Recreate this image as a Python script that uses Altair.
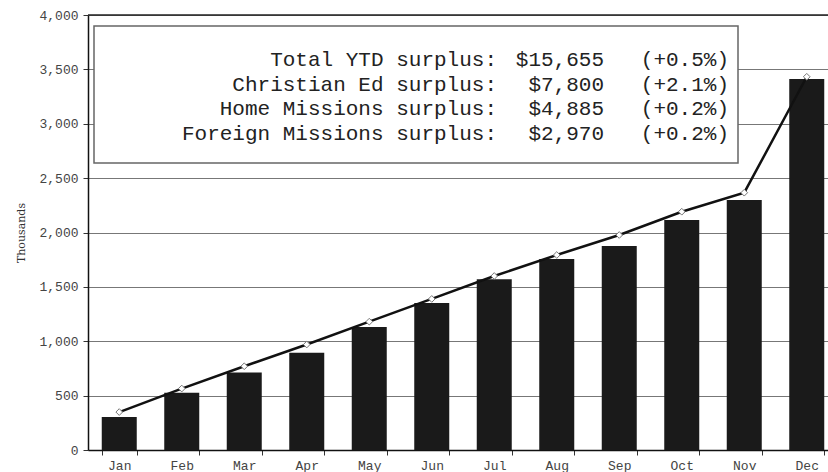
import altair as alt
import pandas as pd

months = ["Jan", "Feb", "Mar", "Apr", "May", "Jun", "Jul", "Aug", "Sep", "Oct", "Nov", "Dec"]
actual = [303, 527, 712, 894, 1131, 1352, 1570, 1756, 1876, 2115, 2299, 3411]
budget = [349, 565, 770, 970, 1180, 1389, 1600, 1793, 1977, 2191, 2366, 3432]

box_labels = ["Total YTD surplus:", "Christian Ed surplus:", "Home Missions surplus:", "Foreign Missions surplus:"]
box_amounts = ["$15,655", "$7,800", "$4,885", "$2,970"]
box_pcts = ["(+0.5%)", "(+2.1%)", "(+0.2%)", "(+0.2%)"]

df = pd.DataFrame({"month": months, "actual": actual, "budget": budget})
tdf = pd.DataFrame({"row": list(range(len(box_labels))), "label": box_labels,
                    "amount": box_amounts, "pct": box_pcts})

FONT = "Liberation Mono"

xenc = alt.X("month:N", sort=months, title=None,
             scale=alt.Scale(range=[0, 750], paddingInner=0.44, paddingOuter=0.22),
             axis=alt.Axis(labelAngle=0, labelFont=FONT, labelFontSize=13, labelColor="#444",
                           domainColor="#111", domainWidth=1.5, tickColor="#333", tickSize=5,
                           tickBand="extent", labelPadding=4))
yenc = alt.Y("actual:Q", title="Thousands",
             scale=alt.Scale(domain=[0, 4000]),
             axis=alt.Axis(values=list(range(0, 4001, 500)), format=",d",
                           labelFont=FONT, labelFontSize=13, labelColor="#444",
                           titleFont="DejaVu Serif", titleFontSize=11, titleFontWeight="normal",
                           titleColor="#333", titlePadding=12,
                           domainColor="#111", domainWidth=1.5, tickColor="#333", tickSize=5,
                           grid=True, gridColor="#777", gridWidth=1.2, labelPadding=5))

bars = alt.Chart(df).mark_bar(color="#1a1a1a").encode(x=xenc, y=yenc)
line = alt.Chart(df).mark_line(color="#111", strokeWidth=2.5).encode(
    x=alt.X("month:N", sort=months), y=alt.Y("budget:Q"))
pts = alt.Chart(df).mark_point(shape="diamond", size=45, filled=True, fill="white",
                               stroke="#777", strokeWidth=1, opacity=1).encode(
    x=alt.X("month:N", sort=months), y=alt.Y("budget:Q"))

top_rule = alt.Chart(pd.DataFrame({"v": [4000]})).mark_rule(color="#222", strokeWidth=1.5).encode(
    y=alt.Y("v:Q"))

main = alt.layer(bars, line, pts, top_rule)

box = alt.Chart(pd.DataFrame({"a": [1]})).mark_rect(
    fill="white", stroke="#666", strokeWidth=1.5).encode(
    x=alt.value(6), x2=alt.value(650), y=alt.value(11), y2=alt.value(148))

ty = alt.Y("row:O", axis=None, scale=alt.Scale(range=[45, 119], padding=0))
t1 = alt.Chart(tdf).mark_text(align="right", baseline="middle", font=FONT, fontSize=21,
                              color="#222").encode(x=alt.value(409), y=ty, text="label:N")
t2 = alt.Chart(tdf).mark_text(align="right", baseline="middle", font=FONT, fontSize=21,
                              color="#222").encode(x=alt.value(516), y=ty, text="amount:N")
t3 = alt.Chart(tdf).mark_text(align="right", baseline="middle", font=FONT, fontSize=21,
                              color="#222").encode(x=alt.value(641), y=ty, text="pct:N")
texts = alt.layer(t1, t2, t3)

chart = alt.layer(main, box, texts).resolve_scale(y="independent").properties(
    width=740, height=435,
    padding={"left": 88, "top": 15, "right": 0, "bottom": 22},
    autosize=alt.AutoSizeParams(type="none"),
    background="white",
).configure_view(stroke=None)

chart.save("out.html", embed_options={"renderer": "svg", "actions": False})
